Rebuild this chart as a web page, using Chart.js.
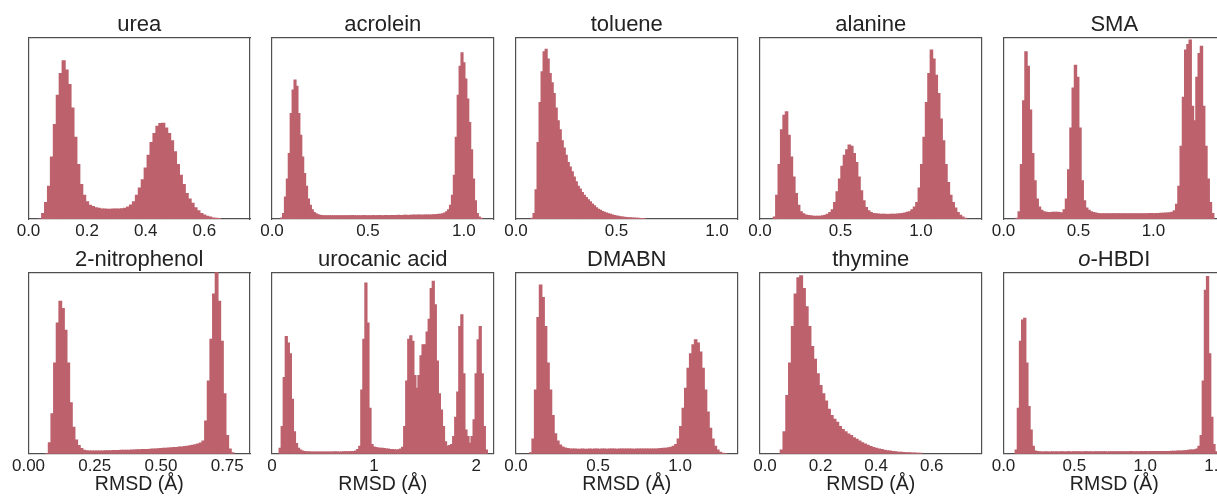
<!DOCTYPE html>
<html>
<head>
<meta charset="utf-8">
<script src="https://cdn.jsdelivr.net/npm/chart.js@4.4.1/dist/chart.umd.min.js"></script>
<style>
  html, body { margin: 0; padding: 0; background: #fff; overflow: hidden; }
  body { width: 1217px; height: 500px; position: relative; font-family: "Liberation Sans", Arial, sans-serif; }
  canvas { position: absolute; }
  .title { position: absolute; font-size: 22px; line-height: 22px; color: #222; text-align: center; white-space: nowrap; }
</style>
</head>
<body>
<script>
/*********************************************************
 * DATA  (bar heights in % of the panel height)
 *********************************************************/
const titles = ["urea", "acrolein", "toluene", "alanine", "SMA",
                "2-nitrophenol", "urocanic acid", "DMABN", "thymine", "<i>o</i>-HBDI"];

const xMin = [0, 0, 0, 0, 0, 0, 0, 0, -0.018, 0];
const xMax = [0.756, 1.154, 1.102, 1.376, 1.477, 0.836, 2.17, 1.35, 0.779, 1.563];

const tickValues = [
  [0, 0.2, 0.4, 0.6], [0, 0.5, 1.0], [0, 0.5, 1.0], [0, 0.5, 1.0], [0, 0.5, 1.0],
  [0, 0.25, 0.5, 0.75], [0, 1, 2], [0, 0.5, 1.0], [0, 0.2, 0.4, 0.6], [0, 0.5, 1.0, 1.5]
];
const tickLabels = [
  ["0.0", "0.2", "0.4", "0.6"], ["0.0", "0.5", "1.0"], ["0.0", "0.5", "1.0"], ["0.0", "0.5", "1.0"], ["0.0", "0.5", "1.0"],
  ["0.00", "0.25", "0.50", "0.75"], ["0", "1", "2"], ["0.0", "0.5", "1.0"], ["0.0", "0.2", "0.4", "0.6"], ["0.0", "0.5", "1.0", "1.5"]
];

// centre of the first bin, and bin width (RMSD, Å)
const binStart = [0.04, 0.05, 0.08, 0.09, 0.09, 0.07, 0.08, 0.09, 0.06, 0.09];
const binWidth = [0.01, 0.01, 0.01, 0.015, 0.015, 0.01, 0.02, 0.015, 0.01, 0.015];

const urea = [
  0, 3, 9, 18, 34, 52, 68, 80, 87, 82,
  74, 61, 45, 30, 19, 13, 9.5, 7.5, 6.8, 6.2,
  5.8, 5.5, 5.4, 5.3, 5.3, 5.4, 5.4, 5.5, 5.6, 5.9,
  6.6, 7.7, 9.5, 13, 17, 21.5, 28, 35, 42, 47,
  51, 52.5, 52.7, 50, 47, 43, 37, 30, 24, 19,
  14, 11, 8.6, 6.2, 4.5, 3, 2.2, 1.5, 1, 0.5,
  0.3, 0.2
];
const acrolein = [
  0.5, 3, 12, 22, 36, 58, 71, 76.5, 73, 58,
  46, 34, 25, 18, 11, 7.5, 5, 3.5, 2.8, 2.3,
  2.0, 1.9, 1.8, 1.8, 1.7, 1.8, 1.8, 1.7, 1.8, 1.8,
  1.7, 1.8, 1.8, 1.8, 1.7, 1.8, 1.8, 1.9, 1.8, 1.8,
  1.8, 1.7, 1.8, 1.9, 1.8, 1.8, 1.8, 1.8, 1.9, 1.8,
  1.8, 1.9, 1.8, 1.8, 1.9, 1.9, 1.8, 1.9, 1.9, 1.9,
  1.9, 2.0, 1.9, 1.9, 2.0, 2.0, 1.9, 2.0, 2.0, 2.1,
  2.0, 2.1, 2.1, 2.0, 2.1, 2.2, 2.1, 2.2, 2.2, 2.3,
  2.3, 2.4, 2.5, 2.6, 2.8, 3.2, 4, 5, 7.5, 13,
  24, 45, 68, 84, 91.5, 86, 77, 66, 53, 38,
  22, 10, 3, 1, 0.3
];
const toluene = [
  0.3, 3, 16, 42, 64, 81, 92, 93.4, 88, 80,
  75, 69, 61, 54, 49, 43, 39, 35, 31, 28.5,
  26, 23, 20.5, 18, 16.5, 14.5, 13, 11.8, 10.5, 9.5,
  8.2, 7.2, 6.2, 5.3, 4.7, 4.1, 3.6, 3.2, 2.8, 2.5,
  2.2, 1.9, 1.6, 1.4, 1.2, 1.0, 0.9, 0.8, 0.7, 0.6,
  0.5, 0.45, 0.4, 0.3, 0.25, 0.2, 0.15
];
const alanine = [
  1, 13, 30, 49, 57, 59, 46, 34, 23, 14,
  7.5, 4, 2.8, 2.2, 1.9, 1.7, 1.5, 1.4, 1.4, 1.5,
  1.7, 2, 2.6, 3.5, 5, 9, 15, 22, 29, 35,
  38, 40.7, 40, 36, 31, 23, 15.5, 10, 6.3, 4.5,
  3.5, 3, 2.8, 2.7, 2.6, 2.6, 2.5, 2.4, 2.5, 2.5,
  2.6, 2.7, 2.8, 3, 3.3, 3.6, 4, 5, 6.5, 9,
  17, 30, 45, 64, 80, 93, 88, 79, 69, 55,
  43, 30, 20, 13, 9, 6, 3.5, 2, 1, 0.4
];
const sma = [
  0.3, 4, 30, 65, 92, 84, 60, 36, 21, 11,
  6.5, 4.8, 4, 3.6, 3.5, 3.5, 3.6, 3.7, 3.7, 3.5,
  3.2, 5, 11, 27, 50, 72, 84.6, 78, 50, 21,
  10, 6, 4.8, 4, 3.5, 3.2, 3, 2.9, 2.9, 2.8,
  2.8, 2.8, 2.9, 2.8, 2.8, 2.8, 2.9, 2.8, 2.8, 2.8,
  2.8, 2.9, 2.8, 2.8, 2.9, 2.8, 2.9, 2.9, 2.9, 3,
  3, 2.9, 3, 3, 3.1, 3.1, 3.2, 3.3, 3.4, 3.6,
  4.5, 8, 18, 40, 67, 93, 96, 98.5, 62, 54,
  78, 91, 95, 62, 40, 22, 9, 3
];
const nitrophenol = [
  0, 6, 22, 50, 72, 84, 80, 68, 50, 28,
  14.5, 7.5, 4.5, 2.8, 1.8, 1.6, 1.5, 1.5, 1.5, 1.5,
  1.5, 1.5, 1.6, 1.6, 1.6, 1.7, 1.7, 1.7, 1.8, 1.8,
  1.9, 1.9, 2.0, 2.0, 2.1, 2.1, 2.2, 2.3, 2.3, 2.4,
  2.5, 2.6, 2.7, 2.8, 2.9, 3.0, 3.1, 3.2, 3.3, 3.4,
  3.6, 3.7, 3.9, 4.1, 4.3, 4.6, 4.9, 5.3, 5.8, 7,
  18, 40, 63, 88, 104, 84, 62, 33, 10, 2.5,
  0.5
];
const urocanic = [
  3, 15, 42, 64.5, 61, 55, 30, 12, 5.5, 3,
  2, 1.5, 1.2, 1, 1, 0.9, 0.9, 0.9, 0.9, 0.9,
  0.9, 0.9, 0.9, 0.9, 0.9, 0.9, 0.9, 1, 0.9, 0.9,
  0.9, 1, 1, 1, 1, 1.1, 1.2, 1.5, 2.2, 4,
  35, 63, 94, 72, 25, 5, 3.6, 3.3, 3.1, 3,
  2.9, 2.8, 2.6, 2.5, 2.3, 2.2, 2.1, 2, 2.1, 2.5,
  3.5, 15, 40, 63, 65, 62, 43, 36, 43, 54,
  60, 60, 67, 74, 91, 95, 82, 51, 33, 24,
  15, 6.6, 4.2, 4.5, 5, 9.4, 20, 34, 70, 76.5,
  44, 13, 9.4, 5.7, 9.4, 18.6, 44, 62.7, 70, 44,
  15, 2
];
const dmabn = [
  0.5, 8, 35, 75, 93, 86, 70, 50, 35, 21,
  11, 7, 4.7, 3.6, 3.1, 2.8, 2.6, 2.5, 2.5, 2.4,
  2.4, 2.5, 2.4, 2.4, 2.5, 2.4, 2.5, 2.5, 2.4, 2.5,
  2.5, 2.4, 2.5, 2.5, 2.5, 2.4, 2.5, 2.5, 2.5, 2.5,
  2.5, 2.5, 2.4, 2.5, 2.5, 2.5, 2.6, 2.5, 2.5, 2.6,
  2.6, 2.6, 2.7, 2.8, 2.9, 3, 3.2, 3.5, 4, 5,
  8, 15, 25, 36, 47, 55, 60, 62.7, 61, 56,
  47, 35, 23, 14, 8, 4, 2, 0.8, 0.2, 0
];
const thymine = [
  2, 12, 32, 50, 70, 88, 97, 98, 91, 81,
  70, 59, 52, 44, 37.5, 33, 29, 24.5, 21, 19,
  17.3, 15, 13.3, 12, 10.8, 10, 8.8, 7.9, 7, 6,
  5.3, 4.6, 3.9, 3.4, 3, 2.6, 2.2, 1.9, 1.6, 1.4,
  1.2, 1, 0.8, 0.7, 0.6, 0.5, 0.4, 0.35, 0.3, 0.2,
  0.15
];
const hbdi = [
  2, 25, 62, 73.7, 74.6, 50, 26, 13, 4, 1.5,
  1.1, 1, 0.9, 0.9, 1, 0.9, 0.9, 1, 0.9, 1,
  0.9, 1, 1, 0.9, 1, 1, 0.9, 1, 1, 1,
  1, 0.9, 1, 1, 1, 1, 0.9, 1, 1, 1,
  1, 1, 1, 0.9, 1, 1, 1, 1, 1, 1,
  1, 1, 1, 1, 1.1, 1, 1, 1, 1, 1.1,
  1, 1.1, 1, 1.1, 1.1, 1.1, 1.1, 1.2, 1.1, 1.2,
  1.2, 1.2, 1.2, 1.3, 1.3, 1.3, 1.4, 1.4, 1.5, 1.6,
  1.7, 1.8, 2, 2, 2.1, 2.5, 4, 10, 40, 90,
  97.6, 55, 20, 5, 1
];

const counts = [urea, acrolein, toluene, alanine, sma,
                nitrophenol, urocanic, dmabn, thymine, hbdi];

/*********************************************************
 * LAYOUT / STYLE
 *********************************************************/
const BAR_COLOR = "#bd626d";
const FRAME = "#505050";
const TEXT = "#222";
const FONT = '"Liberation Sans", Arial, sans-serif';

const panelLeft = [28.5, 272, 516, 760, 1003.5];
const panelW = 221.5;
const canvasTop = [0, 235];
const canvasH = [245, 265];
const axisH = [26, 46.3];
const titleTop = [13, 248];
const SIDE = 26;

Chart.defaults.font.family = FONT;

/*********************************************************
 * PANELS
 *********************************************************/
counts.forEach((vals, i) => {
  const row = Math.floor(i / 5);
  const col = i % 5;

  const left = Math.floor(panelLeft[col] - SIDE);
  const padL = panelLeft[col] - left;
  const w = Math.ceil(padL + panelW + SIDE);

  const cv = document.createElement("canvas");
  cv.width = w;
  cv.height = canvasH[row];
  cv.style.left = left + "px";
  cv.style.top = canvasTop[row] + "px";
  document.body.appendChild(cv);

  const t = document.createElement("div");
  t.className = "title";
  t.innerHTML = titles[i];
  t.style.left = panelLeft[col] + "px";
  t.style.width = panelW + "px";
  t.style.top = titleTop[row] + "px";
  document.body.appendChild(t);

  const frame = { display: true, color: FRAME, width: 1.2 };
  const noGrid = { display: false, drawTicks: false };

  new Chart(cv.getContext("2d"), {
    type: "bar",
    data: {
      datasets: [{
        data: vals.map((v, k) => ({ x: binStart[i] + k * binWidth[i], y: v })),
        backgroundColor: BAR_COLOR,
        borderWidth: 0,
        inflateAmount: 0.6,
        barPercentage: 1,
        categoryPercentage: 1
      }]
    },
    options: {
      responsive: false,
      animation: false,
      events: [],
      layout: { padding: { left: padL, right: w - padL - panelW, top: 37.3, bottom: 0 } },
      plugins: { legend: { display: false }, tooltip: { enabled: false }, title: { display: false } },
      scales: {
        x: {
          type: "linear", position: "bottom", offset: false,
          min: xMin[i], max: xMax[i],
          afterBuildTicks: s => { s.ticks = tickValues[i].map(v => ({ value: v })); },
          afterFit: s => { s.height = axisH[row]; },
          grid: noGrid,
          border: frame,
          ticks: {
            autoSkip: false, maxRotation: 0, padding: 2, color: TEXT,
            font: { size: 17 },
            callback: (v, k) => tickLabels[i][k]
          },
          title: {
            display: row === 1, text: "RMSD (Å)", color: TEXT,
            font: { size: 19.5 }, padding: { top: 0, bottom: 4 }
          }
        },
        x2: {
          type: "linear", position: "top", min: xMin[i], max: xMax[i],
          afterFit: s => { s.height = 0; },
          grid: noGrid, border: frame, ticks: { display: false }
        },
        y: {
          type: "linear", position: "left", min: 0, max: 100,
          afterFit: s => { s.width = 0; },
          grid: noGrid, border: frame, ticks: { display: false }
        },
        y2: {
          type: "linear", position: "right", min: 0, max: 100,
          afterFit: s => { s.width = 0; },
          grid: noGrid, border: frame, ticks: { display: false }
        }
      }
    }
  });
});
</script>
</body>
</html>
